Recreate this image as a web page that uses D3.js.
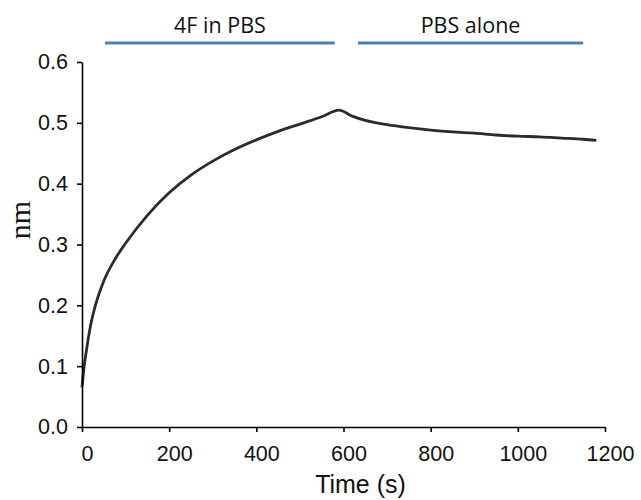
<!DOCTYPE html>
<html>
<head>
<meta charset="utf-8">
<script src="https://cdn.jsdelivr.net/npm/d3@7"></script>
<style>
  body { margin: 0; background: #fff; }
  svg { display: block; }
</style>
</head>
<body>
<div id="wrapper"></div>
<script>
// data
const times = [0, 2, 5, 10, 20, 30, 50, 75, 100, 150, 200, 250, 300, 350, 400, 450, 500, 550, 590,
  620, 650, 700, 750, 800, 850, 900, 950, 1000, 1050, 1100, 1150, 1180]
const values = [0.065, 0.08, 0.10, 0.125, 0.168, 0.198, 0.24, 0.275, 0.302, 0.348, 0.385, 0.414, 0.437, 0.456, 0.472, 0.486, 0.498, 0.51, 0.521,
  0.511, 0.504, 0.497, 0.492, 0.488, 0.485, 0.483, 0.48, 0.478, 0.477, 0.475, 0.473, 0.471]
const xTicks = [0, 200, 400, 600, 800, 1000, 1200]
const yTicks = [0, 0.1, 0.2, 0.3, 0.4, 0.5, 0.6]
const phaseLabels = ['4F in PBS', 'PBS alone']
const phaseStart = [53, 633]
const phaseEnd = [580, 1150]

const dimensions = {
  width: 641,
  height: 500,
  margin: { top: 62, right: 36, bottom: 73, left: 82 },
}
dimensions.boundedWidth = dimensions.width - dimensions.margin.left - dimensions.margin.right
dimensions.boundedHeight = dimensions.height - dimensions.margin.top - dimensions.margin.bottom

const svg = d3.select('#wrapper')
  .append('svg')
  .attr('width', dimensions.width)
  .attr('height', dimensions.height)

const bounds = svg.append('g')
  .attr('transform', `translate(${dimensions.margin.left},${dimensions.margin.top})`)

const xScale = d3.scaleLinear().domain([0, 1200]).range([0, 523])
const yScale = d3.scaleLinear().domain([0, 0.6]).range([dimensions.boundedHeight, 0])

// phase bars on top
const phases = phaseLabels.map((label, i) => ({ label, start: phaseStart[i], end: phaseEnd[i] }))
bounds.selectAll('.phase-bar')
  .data(phases)
  .enter()
  .append('line')
  .attr('x1', (d) => xScale(d.start))
  .attr('x2', (d) => xScale(d.end))
  .attr('y1', -19)
  .attr('y2', -19)
  .attr('stroke', '#4a7ebb')
  .attr('stroke-width', 3)

bounds.selectAll('.phase-label')
  .data(phases)
  .enter()
  .append('text')
  .attr('x', (d) => xScale((d.start + d.end) / 2))
  .attr('y', -29)
  .attr('text-anchor', 'middle')
  .attr('font-family', '"Open Sans", sans-serif')
  .attr('font-size', '21.5px')
  .attr('fill', '#111')
  .text((d) => d.label)

// curve
const data = times.map((t, i) => ({ t, v: values[i] }))
const line = d3.line()
  .x((d) => xScale(d.t))
  .y((d) => yScale(d.v))
  .curve(d3.curveMonotoneX)

bounds.append('path')
  .datum(data)
  .attr('d', line)
  .attr('fill', 'none')
  .attr('stroke', '#2b2b2b')
  .attr('stroke-width', 2.8)

// axes
const xAxis = bounds.append('g')
  .attr('transform', `translate(0,${dimensions.boundedHeight})`)
  .call(d3.axisBottom(xScale).tickValues(xTicks).tickFormat(d3.format('d')).tickSize(5).tickSizeOuter(0).tickPadding(14))
const yAxis = bounds.append('g')
  .call(d3.axisLeft(yScale).tickValues(yTicks).tickFormat(d3.format('.1f')).tickSize(5).tickSizeOuter(0).tickPadding(9))

;[xAxis, yAxis].forEach((ax) => {
  ax.selectAll('path, line').attr('stroke', '#000').attr('stroke-width', 1.6)
  ax.selectAll('text')
    .attr('font-family', '"Liberation Sans", Arial, sans-serif')
    .attr('font-size', '21.5px')
    .attr('fill', '#111')
})
xAxis.selectAll('text').attr('dx', 5)

// axis titles
bounds.append('text')
  .attr('x', xScale(600) + 17)
  .attr('y', dimensions.boundedHeight + 66)
  .attr('text-anchor', 'middle')
  .attr('font-family', '"Liberation Sans", Arial, sans-serif')
  .attr('font-size', '25px')
  .attr('fill', '#111')
  .text('Time (s)')

bounds.append('text')
  .attr('transform', `translate(-52,${yScale(0.34)}) rotate(-90)`)
  .attr('text-anchor', 'middle')
  .attr('font-family', '"Liberation Serif", "Times New Roman", serif')
  .attr('font-size', '30px')
  .attr('fill', '#111')
  .text('nm')
</script>
</body>
</html>
